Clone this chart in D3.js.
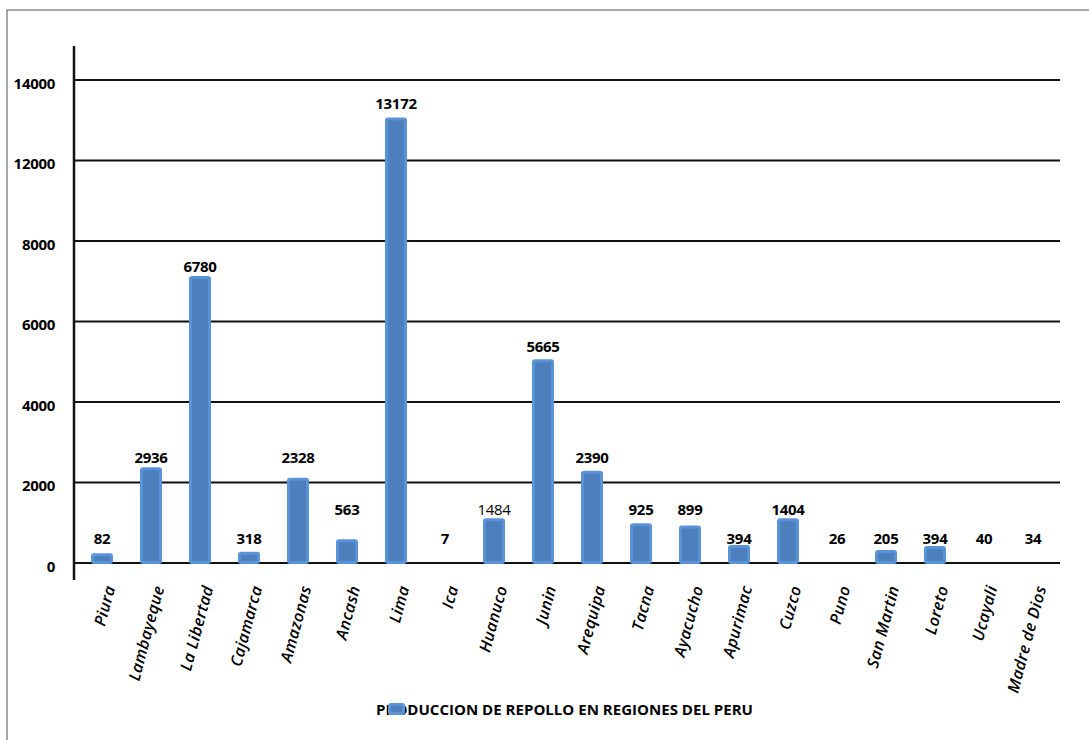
<!DOCTYPE html>
<html>
<head>
<meta charset="utf-8">
<script src="https://cdn.jsdelivr.net/npm/d3@7"></script>
<style>
  body { margin: 0; background: #fff; }
  svg { display: block; font-family: "Open Sans", "Noto Sans", sans-serif; }
</style>
</head>
<body>
<svg id="grafico" width="1089" height="740"></svg>
<script>
// regiones del eje x
const regiones = ["Piura", "Lambayeque", "La Libertad", "Cajamarca", "Amazonas", "Ancash", "Lima", "Ica",
  "Huanuco", "Junin", "Arequipa", "Tacna", "Ayacucho", "Apurimac", "Cuzco", "Puno",
  "San Martin", "Loreto", "Ucayali", "Madre de Dios"];

// valores impresos sobre cada barra
const produccion = [82, 2936, 6780, 318, 2328, 563, 13172, 7, 1484, 5665, 2390, 925, 899, 394, 1404, 26, 205, 394, 40, 34];

const alturaBarra = [240, 2380, 7130, 280, 2120, 590, 11070, 0, 1110, 5060, 2290, 990, 930, 450, 1110, 0, 320, 420, 0, 0];

// nivel (unidades del eje) donde aparece cada etiqueta
const nivelEtiqueta = [472, 2491, 7236, 472, 2491, 1192, 11277, 472, 1192, 5241, 2491, 1192, 1192, 472, 1192, 472, 472, 472, 472, 472];

// marcas del eje y (el gráfico original salta el 10000)
const marcasY = [0, 2000, 4000, 6000, 8000, 10000, 12000];
const textoMarcasY = ["0", "2000", "4000", "6000", "8000", "12000", "14000"];

const titulo = "PRODUCCION DE REPOLLO EN REGIONES DEL PERU";

const svg = d3.select("#grafico");

// marco exterior
svg.append("rect")
  .attr("x", 7).attr("y", 10)
  .attr("width", 1100).attr("height", 760)
  .attr("fill", "none")
  .attr("stroke", "#8a8a8a")
  .attr("stroke-width", 1.5);

const x = d3.scaleBand()
  .domain(regiones)
  .range([77.5, 1057.5])
  .paddingInner(0.55)
  .paddingOuter(0.275);

const y = d3.scaleLinear()
  .domain([0, 12000])
  .range([563, 80]);

// lineas de cuadricula
svg.append("g")
  .selectAll("line")
  .data(marcasY)
  .join("line")
  .attr("x1", 74).attr("x2", 1060)
  .attr("y1", d => y(d)).attr("y2", d => y(d))
  .attr("stroke", "#111")
  .attr("stroke-width", 2);

// eje y
const ejeY = svg.append("g")
  .attr("transform", "translate(74,0)")
  .call(d3.axisLeft(y).tickValues(marcasY).tickSize(0).tickPadding(19)
    .tickFormat((d, i) => textoMarcasY[i]));
ejeY.select(".domain").remove();
ejeY.selectAll("text")
  .attr("font-family", "'Open Sans', sans-serif")
  .attr("font-size", 15)
  .attr("font-weight", "bold")
  .attr("letter-spacing", -0.3)
  .attr("fill", "#000")
  .attr("dy", "0.55em");

svg.append("line")
  .attr("x1", 74).attr("x2", 74)
  .attr("y1", 46).attr("y2", 580)
  .attr("stroke", "#111")
  .attr("stroke-width", 2.5);

// barras
const datos = regiones.map((r, i) => ({ region: r, valor: produccion[i], alto: alturaBarra[i], nivel: nivelEtiqueta[i] }));

const barras = svg.append("g")
  .selectAll("g")
  .data(datos.filter(d => d.alto > 0))
  .join("g");

barras.append("rect")
  .attr("x", d => x(d.region))
  .attr("y", d => y(d.alto))
  .attr("width", x.bandwidth())
  .attr("height", d => y(0) - y(d.alto) + 1)
  .attr("rx", 3)
  .attr("fill", "#5b93d9");

barras.append("rect")
  .attr("x", d => x(d.region) + 3)
  .attr("y", d => y(d.alto) + 3)
  .attr("width", x.bandwidth() - 6)
  .attr("height", d => Math.max(0, y(0) - y(d.alto) - 5))
  .attr("fill", "#4d7fbd");

// etiquetas de datos
const etiquetaNormal = new Set(["Huanuco"]);
svg.append("g")
  .selectAll("text")
  .data(datos)
  .join("text")
  .attr("x", d => x(d.region) + x.bandwidth() / 2)
  .attr("y", d => y(d.nivel))
  .attr("text-anchor", "middle")
  .attr("font-size", 15)
  .attr("letter-spacing", -0.3)
  .attr("font-weight", d => etiquetaNormal.has(d.region) ? "normal" : "bold")
  .attr("fill", "#000")
  .text(d => d.valor);

// etiquetas del eje x
svg.append("g")
  .selectAll("text")
  .data(regiones)
  .join("text")
  .attr("transform", d => `translate(${x(d) + x.bandwidth() / 2 + 8},586) rotate(-75)`)
  .attr("text-anchor", "end")
  .attr("dy", "0.35em")
  .attr("font-size", 16)
  .attr("font-style", "italic")
  .attr("font-weight", 600)
  .attr("letter-spacing", 0.4)
  .attr("fill", "#000")
  .text(d => d);

// leyenda
svg.append("text")
  .attr("x", 376)
  .attr("y", 715)
  .attr("font-size", 14)
  .attr("font-weight", "bold")
  .attr("textLength", 377)
  .attr("lengthAdjust", "spacingAndGlyphs")
  .attr("fill", "#000")
  .text(titulo);

svg.append("rect")
  .attr("x", 388).attr("y", 703)
  .attr("width", 17).attr("height", 12)
  .attr("rx", 3)
  .attr("fill", "#5b93d9");
svg.append("rect")
  .attr("x", 391).attr("y", 706)
  .attr("width", 11).attr("height", 6)
  .attr("fill", "#4d7fbd");
</script>
</body>
</html>
